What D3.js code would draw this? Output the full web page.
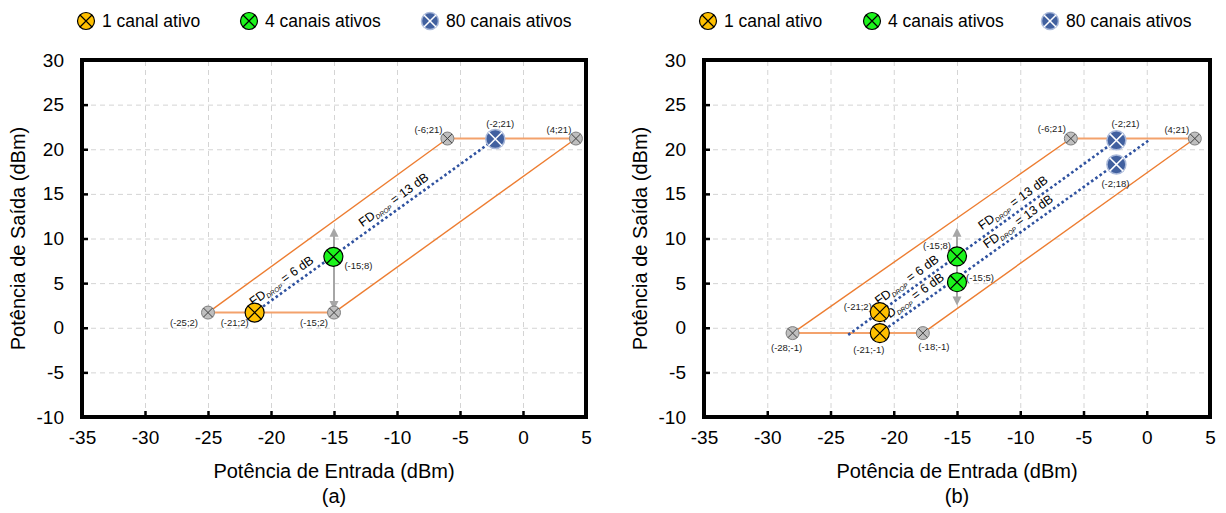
<!DOCTYPE html>
<html lang="pt">
<head>
<meta charset="UTF-8">
<title>Potência de Saída x Potência de Entrada</title>
<style>
  body { margin: 0; background: #fff; }
  svg text { font-family: "Liberation Sans", Arial, sans-serif; fill: #000; }
  .grid line { stroke: #d4d4d4; stroke-dasharray: 5,4; }
  .grid path { display: none; }
</style>
</head>
<body>
<svg id="chart" width="1226" height="513"></svg>
<script src="https://d3js.org/d3.v7.min.js"></script>
<script>
// eixos
const xTicks = [-35, -30, -25, -20, -15, -10, -5, 0, 5];
const yTicks = [-10, -5, 0, 5, 10, 15, 20, 25, 30];
const legendNames = ['1 canal ativo', '4 canais ativos', '80 canais ativos'];

// painel (a): [x, y, rótulo]
const aGray = [[-25, 1.7, '(-25;2)'], [-15, 1.7, '(-15;2)'], [-6, 21.2, '(-6;21)'], [4.2, 21.2, '(4;21)']];
const aOne = [[-21.3, 1.7, '(-21;2)']];
const aFour = [[-15.05, 7.95, '(-15;8)']];
const aEighty = [[-2.2, 21.15, '(-2;21)']];
const aBound = [[-25, 1.7], [-15, 1.7], [4.2, 21.2], [-6, 21.2]];
const aDrop = [[[-21.3, 1.7], [-2.2, 21.15]]];
const aFd = [[0, -18.7, '6 dB'], [0, -9.8, '13 dB']];
const aArrow = [-15, 2.0, 11.2];

// painel (b)
const bGray = [[-28, -0.6, '(-28;-1)'], [-17.7, -0.6, '(-18;-1)'], [-6, 21.2, '(-6;21)'], [3.8, 21.2, '(4;21)']];
const bOne = [[-21.1, 1.75, '(-21;2)'], [-21.1, -0.6, '(-21;-1)']];
const bFour = [[-15, 8.0, '(-15;8)'], [-15, 5.1, '(-15;5)']];
const bEighty = [[-2.4, 21.0, '(-2;21)'], [-2.4, 18.3, '(-2;18)']];
const bBound = [[-28, -0.6], [-17.7, -0.6], [3.8, 21.2], [-6, 21.2]];
const bDrop = [[[-23.6, -0.8], [-2.4, 21.0]], [[-21.1, -0.6], [0.26, 21.1]]];
const bFd = [[0, -18.5, '6 dB'], [0, -10.1, '13 dB'], [1, -18.1, '6 dB'], [1, -9.7, '13 dB']];
const bArrow = [-15, 2.5, 11.2];

// deslocamento dos rótulos dos pontos (px)
const aLabelPos = {
  '(-25;2)': [-24, 10], '(-21;2)': [-20, 10], '(-15;2)': [-20, 10],
  '(-6;21)': [-19, -9], '(-2;21)': [5, -15], '(4;21)': [-17, -9], '(-15;8)': [25, 9]
};
const bLabelPos = {
  '(-28;-1)': [-6, 15], '(-21;-1)': [-11, 17], '(-18;-1)': [11, 14], '(-21;2)': [-22, -5],
  '(-15;8)': [-20, -11], '(-15;5)': [23, -5], '(-6;21)': [-19, -10], '(-2;21)': [9, -17],
  '(4;21)': [-18, -9], '(-2;18)': [-1, 19]
};

const svg = d3.select('#chart');

const markerStyle = {
  gray:   { r: 6.5, fill: '#bfbfbf', stroke: '#7f7f7f', cross: '#404040', sw: 1 },
  one:    { r: 9.5, fill: '#ffc000', stroke: '#000', cross: '#000', sw: 1.2 },
  four:   { r: 9.5, fill: '#1cf51c', stroke: '#000', cross: '#000', sw: 1.2 },
  eighty: { r: 9.5, fill: '#41609f', stroke: '#a9b8d9', cross: '#fff', sw: 1.5 }
};

function marker(g, cx, cy, s) {
  const k = s.r * Math.SQRT1_2;
  g.append('circle').attr('cx', cx).attr('cy', cy).attr('r', s.r)
    .attr('fill', s.fill).attr('stroke', s.stroke).attr('stroke-width', s.sw);
  g.append('path')
    .attr('d', `M${cx - k},${cy - k}L${cx + k},${cy + k}M${cx - k},${cy + k}L${cx + k},${cy - k}`)
    .attr('stroke', s.cross).attr('stroke-width', s.sw);
}

function drawPanel(p) {
  const x = d3.scaleLinear().domain([-35, 5]).range([p.left, p.right]);
  const y = d3.scaleLinear().domain([-10, 30]).range([p.bottom, p.top]);
  const g = svg.append('g');

  // grade
  g.append('g').attr('class', 'grid')
    .attr('transform', `translate(0,${p.bottom})`)
    .call(d3.axisBottom(x).tickValues(xTicks.slice(1, -1)).tickSize(-(p.bottom - p.top)).tickFormat(''));
  g.append('g').attr('class', 'grid')
    .attr('transform', `translate(${p.left},0)`)
    .call(d3.axisLeft(y).tickValues(yTicks.slice(1, -1)).tickSize(-(p.right - p.left)).tickFormat(''));

  // eixos (hífen simples como no original)
  const fmt = d => String(d);
  const xa = g.append('g').attr('transform', `translate(0,${p.bottom})`)
    .call(d3.axisBottom(x).tickValues(xTicks).tickSize(-6).tickPadding(14).tickFormat(fmt));
  const ya = g.append('g').attr('transform', `translate(${p.left},0)`)
    .call(d3.axisLeft(y).tickValues(yTicks).tickSize(-6).tickPadding(18).tickFormat(fmt));
  [xa, ya].forEach(a => {
    a.select('.domain').remove();
    a.selectAll('line').attr('stroke', '#000').attr('stroke-width', 2.5);
    a.selectAll('text').style('font-size', '19px');
  });

  g.append('rect').attr('x', p.left).attr('y', p.top)
    .attr('width', p.right - p.left).attr('height', p.bottom - p.top)
    .attr('fill', 'none').attr('stroke', '#000').attr('stroke-width', 4);

  // títulos
  const cx = (p.left + p.right) / 2;
  g.append('text').attr('x', cx).attr('y', 478).attr('text-anchor', 'middle')
    .style('font-size', '20px').text('Potência de Entrada (dBm)');
  g.append('text').attr('x', cx).attr('y', 503).attr('text-anchor', 'middle')
    .style('font-size', '20px').text(p.tag);
  g.append('text')
    .attr('transform', `translate(${p.left - 64},${(p.top + p.bottom) / 2}) rotate(-90)`)
    .attr('dy', '0.35em')
    .attr('text-anchor', 'middle').style('font-size', '20px').text('Potência de Saída (dBm)');

  // limites (laranja)
  const b = p.bound;
  const seg = (a, c, col, w) => g.append('line')
    .attr('x1', x(a[0])).attr('y1', y(a[1])).attr('x2', x(c[0])).attr('y2', y(c[1]))
    .attr('stroke', col).attr('stroke-width', w);
  seg(b[0], b[1], '#f3a26c', 2);
  seg(b[3], b[2], '#f3a26c', 2);
  seg(b[0], b[3], '#ed7d31', 1.4);
  seg(b[1], b[2], '#ed7d31', 1.4);

  // seta cinza
  const [ax, ay0, ay1] = p.arrow;
  const axp = x(ax), yTop = y(ay1), yBot = y(ay0);
  g.append('line').attr('x1', axp).attr('x2', axp).attr('y1', yTop + 6).attr('y2', yBot - 6)
    .attr('stroke', '#a6a6a6').attr('stroke-width', 2);
  g.append('path').attr('d', `M${axp},${yTop}l-4.5,9h9z M${axp},${yBot}l-4.5,-9h9z`).attr('fill', '#a6a6a6');

  // linhas FD drop (pontilhadas)
  p.drop.forEach(d => {
    g.append('line')
      .attr('x1', x(d[0][0])).attr('y1', y(d[0][1])).attr('x2', x(d[1][0])).attr('y2', y(d[1][1]))
      .attr('stroke', '#2f52a0').attr('stroke-width', 2.6).attr('stroke-dasharray', '2.6,2.6');
  });
  p.fd.forEach(([i, fx, label]) => {
    const d = p.drop[i];
    const t = (fx - d[0][0]) / (d[1][0] - d[0][0]);
    const fy = d[0][1] + t * (d[1][1] - d[0][1]);
    const ang = Math.atan2(y(d[1][1]) - y(d[0][1]), x(d[1][0]) - x(d[0][0])) * 180 / Math.PI;
    const txt = g.append('text')
      .attr('transform', `translate(${x(fx)},${y(fy)}) rotate(${ang})`)
      .attr('y', -6).attr('text-anchor', 'middle').style('font-size', '12.5px');
    txt.append('tspan').text('FD');
    txt.append('tspan').attr('dy', 2.5).style('font-size', '6.5px').style('font-style', 'italic').text('DROP');
    txt.append('tspan').attr('dy', -2.5).text(' = ' + label);
  });

  // marcadores
  const groups = [[p.gray, markerStyle.gray], [p.one, markerStyle.one], [p.four, markerStyle.four], [p.eighty, markerStyle.eighty]];
  groups.forEach(([pts, s]) => pts.forEach(pt => {
    marker(g, x(pt[0]), y(pt[1]), s);
    const off = p.labelPos[pt[2]];
    g.append('text').attr('x', x(pt[0]) + off[0]).attr('y', y(pt[1]) + off[1])
      .attr('dy', '0.35em').attr('text-anchor', 'middle')
      .style('font-size', '9.5px').style('fill', '#222').text(pt[2]);
  }));

  // legenda
  const legendStyles = [markerStyle.one, markerStyle.four, markerStyle.eighty];
  p.legendX.forEach((lx, i) => {
    marker(g, lx, 21, Object.assign({}, legendStyles[i], { r: 8.5 }));
    g.append('text').attr('x', lx + 16).attr('y', 21).attr('dy', '0.35em')
      .style('font-size', '17.5px').text(legendNames[i]);
  });
}

drawPanel({
  left: 82, right: 586, top: 60, bottom: 417, tag: '(a)',
  gray: aGray, one: aOne, four: aFour, eighty: aEighty,
  bound: aBound, drop: aDrop, fd: aFd, arrow: aArrow, labelPos: aLabelPos,
  legendX: [86, 249, 430]
});
drawPanel({
  left: 704, right: 1210, top: 60, bottom: 417, tag: '(b)',
  gray: bGray, one: bOne, four: bFour, eighty: bEighty,
  bound: bBound, drop: bDrop, fd: bFd, arrow: bArrow, labelPos: bLabelPos,
  legendX: [708, 872, 1050]
});
</script>
</body>
</html>
